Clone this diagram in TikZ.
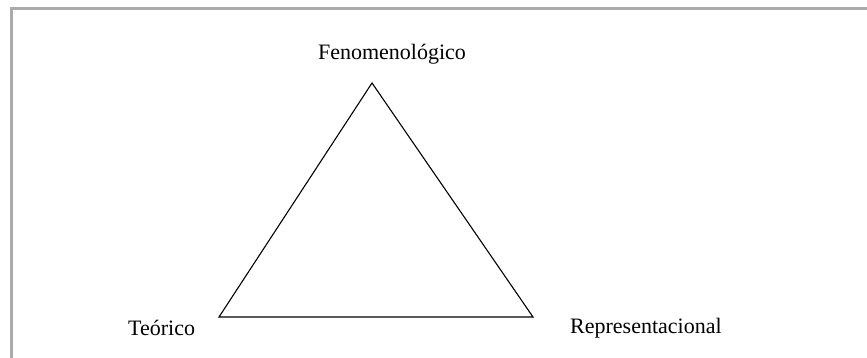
\documentclass[tikz,border=0pt]{standalone}
\usepackage{fontspec}
\setmainfont{Liberation Serif}
\begin{document}
\begin{tikzpicture}[x=1pt,y=-1pt,
  lbl/.style={inner sep=0pt,font=\fontsize{22}{26}\selectfont},
  frameline/.style={draw=black!33,line width=3pt},
  edge/.style={draw=black,line width=1.1pt,line join=miter}]
\useasboundingbox (0,0) rectangle (867,358);
\fill[white] (0,0) rectangle (867,358);
\draw[frameline] (11,358) -- (11,9) -- (867,9);
\coordinate (top) at (372,83);
\coordinate (left) at (219,317);
\coordinate (right) at (533,317);
\draw[edge] (top) -- (left) -- (right) -- cycle;
\node[lbl,anchor=base] (fen) at (392,60) {Fenomenológico};
\node[lbl,anchor=base west] (teo) at (128,335) {Teórico};
\node[lbl,anchor=base west] (rep) at (570,333) {Representacional};
\end{tikzpicture}
\end{document}
